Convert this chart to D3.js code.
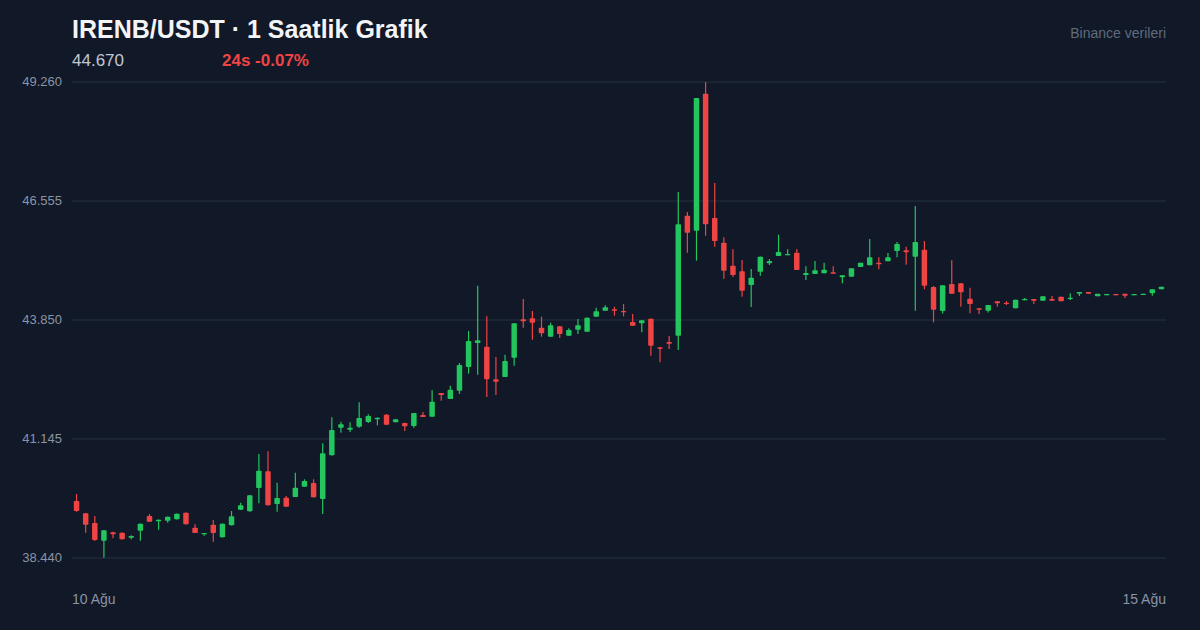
<!DOCTYPE html>
<html>
<head>
<meta charset="utf-8">
<script src="https://cdn.jsdelivr.net/npm/d3@7"></script>
<style>
  html, body { margin: 0; padding: 0; background: #111827; }
  svg { display: block; font-family: "Liberation Sans", Arial, sans-serif; }
</style>
</head>
<body>
<div id="chart"></div>
<script>
// IRENB/USDT hourly candles, 10 Aug -> 15 Aug (120 bars)
var opens = [39.736,39.456,39.236,38.833,39.024,39.015,38.901,39.061,39.395,39.274,
  39.288,39.32,39.47,39.129,38.979,39.197,38.911,39.183,39.538,39.502,
  40.031,40.411,39.667,39.811,39.827,40.061,40.145,39.781,40.774,41.402,
  41.356,41.424,41.531,41.593,41.697,41.524,41.51,41.44,41.69,41.652,
  42.19,42.054,42.243,42.781,43.327,43.243,42.502,42.554,42.993,43.866,
  43.889,43.675,43.47,43.707,43.493,43.629,43.584,43.925,44.061,44.093,
  44.054,43.804,43.775,43.879,43.229,43.35,43.493,46.221,45.88,48.994,
  46.168,45.607,45.084,44.957,44.645,44.948,45.139,45.305,45.321,45.38,
  44.873,44.896,44.911,44.934,44.82,44.834,45.055,45.093,45.152,45.184,
  45.418,45.434,45.289,45.448,44.6,44.054,44.668,44.684,44.334,44.116,
  44.061,44.275,44.243,44.116,44.298,44.327,44.289,44.327,44.38,44.327,
  44.448,44.486,44.389,44.411,44.441,44.448,44.411,44.418,44.457,44.548];
var highs = [39.895,39.463,39.395,39.076,39.038,39.02,38.956,39.225,39.44,39.315,
  39.384,39.452,39.475,39.206,39.008,39.304,39.225,39.508,39.697,39.87,
  40.804,40.865,40.152,39.849,40.379,40.229,40.229,41.047,41.638,41.538,
  41.524,41.979,41.706,41.634,41.713,41.593,41.515,41.736,41.759,42.252,
  42.19,42.356,42.872,43.6,44.63,43.934,43.009,43.061,43.775,44.327,
  44.054,43.925,43.789,43.71,43.661,43.872,43.905,44.129,44.184,44.152,
  44.213,43.986,43.85,43.885,43.235,43.486,46.759,46.305,48.896,49.26,
  46.964,45.73,45.457,45.214,45.009,45.295,45.236,45.789,45.457,45.464,
  45.071,45.191,45.152,45.07,44.866,45.025,45.152,45.691,45.275,45.373,
  45.623,45.516,46.441,45.646,44.623,44.642,45.207,44.69,44.584,44.12,
  44.191,44.28,44.28,44.311,44.35,44.33,44.389,44.396,44.38,44.457,
  44.486,44.486,44.448,44.441,44.441,44.448,44.441,44.448,44.548,44.607];
var lows = [39.49,39.015,38.826,38.447,38.888,38.86,38.865,38.833,39.26,39.083,
  39.242,39.315,39.2,39.008,38.947,38.811,38.905,39.18,39.53,39.49,
  39.683,39.633,39.492,39.606,39.827,40.061,39.815,39.44,40.77,41.288,
  41.302,41.402,41.51,41.456,41.47,41.524,41.327,41.402,41.645,41.652,
  42.015,42.054,42.168,42.629,42.606,42.1,42.145,42.554,42.811,43.675,
  43.402,43.47,43.47,43.44,43.493,43.532,43.584,43.925,44.061,43.948,
  43.934,43.72,43.57,43.038,42.888,43.188,43.168,45.38,45.198,45.766,
  45.516,44.789,44.83,44.38,44.145,44.857,45.1,45.305,45.321,44.986,
  44.759,44.896,44.911,44.902,44.684,44.834,45.055,45.093,45.002,45.184,
  45.275,45.107,44.061,44.548,43.798,43.998,44.448,44.152,44.002,43.986,
  44.02,44.152,44.19,44.116,44.298,44.213,44.289,44.289,44.275,44.305,
  44.396,44.448,44.389,44.411,44.411,44.35,44.411,44.418,44.402,44.548];
var closes = [39.508,39.197,38.849,39.07,38.979,38.865,38.94,39.22,39.265,39.311,
  39.379,39.447,39.206,39.008,39.008,39.008,39.22,39.388,39.638,39.865,
  40.424,39.638,39.804,39.606,40.038,40.19,39.82,40.82,41.349,41.479,
  41.402,41.622,41.668,41.629,41.47,41.593,41.433,41.736,41.645,41.993,
  42.145,42.265,42.827,43.372,43.388,42.502,42.447,42.918,43.775,43.82,
  43.789,43.547,43.729,43.532,43.622,43.729,43.902,44.048,44.138,44.061,
  44.025,43.72,43.843,43.266,43.197,43.311,46.025,45.834,48.896,46.025,
  45.645,44.971,44.873,44.516,44.811,45.289,45.191,45.396,45.35,44.986,
  44.918,44.98,44.993,44.902,44.866,45.025,45.152,45.275,45.116,45.275,
  45.577,45.389,45.623,44.63,44.084,44.638,44.448,44.48,44.213,44.084,
  44.191,44.23,44.213,44.311,44.327,44.289,44.389,44.289,44.275,44.357,
  44.486,44.448,44.448,44.441,44.411,44.402,44.441,44.448,44.548,44.607];

var yTicks = [38.440, 41.145, 43.850, 46.555, 49.260];
var xLabels = ["10 Ağu", "15 Ağu"];
var lastPrice = "44.670";
var change24 = "24s -0.07%";

var W = 1200, H = 630;
var margin = {top: 82, right: 34, bottom: 72, left: 72};
var UP = "#22c55e", DOWN = "#ef4444";

var svg = d3.select("#chart").append("svg")
  .attr("width", W)
  .attr("height", H);

svg.append("rect").attr("width", W).attr("height", H).attr("fill", "#111827");

var candles = opens.map(function(o, i){
  return {i: i, o: o, h: highs[i], l: lows[i], c: closes[i]};
});

var x = d3.scaleBand()
  .domain(candles.map(function(d){ return d.i; }))
  .range([margin.left, W - margin.right])
  .paddingInner(0.4)
  .paddingOuter(0.2);

var y = d3.scaleLinear()
  .domain([yTicks[0], yTicks[yTicks.length - 1]])
  .range([H - margin.bottom, margin.top]);

// grid + y labels
var yAxis = svg.append("g")
  .attr("transform", "translate(" + margin.left + ",0)")
  .call(d3.axisLeft(y)
    .tickValues(yTicks)
    .tickFormat(d3.format(".3f"))
    .tickSize(-(W - margin.left - margin.right))
    .tickPadding(10)
    .offset(0));
yAxis.select(".domain").remove();
yAxis.selectAll(".tick line").attr("stroke", "#263041").attr("stroke-width", 1);
yAxis.selectAll(".tick text")
  .attr("fill", "#8a94a6")
  .style("font-size", "13px")
  .style("font-family", "'Liberation Sans', Arial, sans-serif");

// candles
var g = svg.append("g");
var bw = x.bandwidth();
g.selectAll(".wick")
  .data(candles)
  .enter()
  .append("line")
  .attr("class", "wick")
  .attr("x1", function(d){ return x(d.i) + bw / 2; })
  .attr("x2", function(d){ return x(d.i) + bw / 2; })
  .attr("y1", function(d){ return y(d.h); })
  .attr("y2", function(d){ return y(d.l); })
  .attr("stroke", function(d){ return d.c >= d.o ? UP : DOWN; })
  .attr("stroke-width", 1.2);

g.selectAll(".body")
  .data(candles)
  .enter()
  .append("rect")
  .attr("class", "body")
  .attr("x", function(d){ return x(d.i); })
  .attr("width", bw)
  .attr("y", function(d){ return y(Math.max(d.o, d.c)); })
  .attr("height", function(d){ return Math.max(1.2, Math.abs(y(d.o) - y(d.c))); })
  .attr("rx", 0.8)
  .attr("fill", function(d){ return d.c >= d.o ? UP : DOWN; });

// header
svg.append("text")
  .attr("x", 72).attr("y", 38)
  .attr("fill", "#f3f4f6")
  .style("font-size", "25px")
  .style("font-weight", "bold")
  .text("IRENB/USDT · 1 Saatlik Grafik");

svg.append("text")
  .attr("x", 72).attr("y", 66)
  .attr("fill", "#c0c7d2")
  .style("font-size", "17px")
  .text(lastPrice);

svg.append("text")
  .attr("x", 222).attr("y", 66)
  .attr("fill", DOWN)
  .style("font-size", "17px")
  .style("font-weight", "bold")
  .text(change24);

svg.append("text")
  .attr("x", W - margin.right).attr("y", 38)
  .attr("text-anchor", "end")
  .attr("fill", "#5f6b7e")
  .style("font-size", "14px")
  .text("Binance verileri");

// x labels: first and last bar
svg.append("text")
  .attr("x", margin.left).attr("y", 604)
  .attr("fill", "#8a94a6")
  .style("font-size", "14px")
  .text(xLabels[0]);

svg.append("text")
  .attr("x", W - margin.right).attr("y", 604)
  .attr("text-anchor", "end")
  .attr("fill", "#8a94a6")
  .style("font-size", "14px")
  .text(xLabels[1]);
</script>
</body>
</html>
